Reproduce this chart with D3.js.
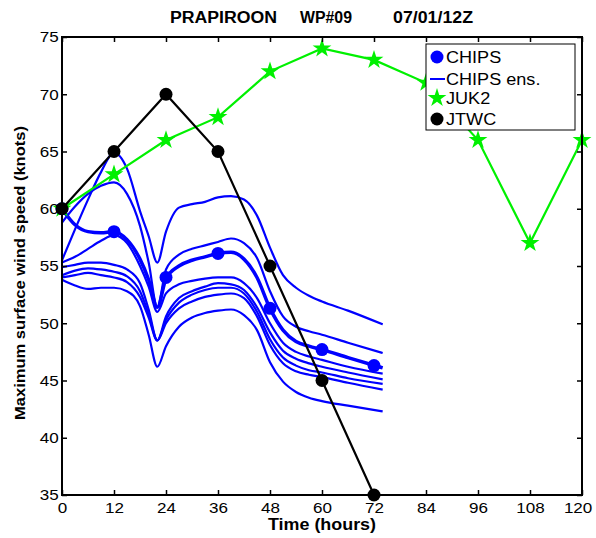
<!DOCTYPE html>
<html>
<head>
<meta charset="utf-8">
<script src="https://cdn.jsdelivr.net/npm/d3@7"></script>
<style>
  body { margin: 0; background: #fff; }
  text { font-family: "Liberation Sans", Arial, Helvetica, sans-serif; }
</style>
</head>
<body>
<div id="chart"></div>
<script>
// forecast hours and tick values
const xTicks = [0, 12, 24, 36, 48, 60, 72, 84, 96, 108, 120];
const yTicks = [35, 40, 45, 50, 55, 60, 65, 70, 75];

// JTWC official forecast
const jtwcHours = [0, 12, 24, 36, 48, 60, 72];
const jtwcWind = [60, 65, 70, 65, 55, 45, 35];

// JUK2
const juk2Hours = [0, 12, 24, 36, 48, 60, 72, 84, 96, 108, 120];
const juk2Wind = [60, 63, 66, 68, 72, 74, 73, 71, 66, 57, 66];

// CHIPS markers (every 12 h)
const chipsHours = [0, 12, 24, 36, 48, 60, 72];
const chipsWind = [60, 58, 54, 56.1, 51.3, 47.7, 46.3];

// CHIPS ensemble tracks
const ensHours = [0, 3, 6, 9, 12, 15, 18, 20, 22, 24, 27, 30, 33, 36, 39, 42, 45, 48, 51, 54, 57, 60, 66, 74];
const chipsTrack = [60.0, 58.6, 58.0, 57.9, 58.0, 57.3, 55.6, 53.8, 51.4, 53.9, 55.0, 55.5, 55.8, 56.1, 56.2, 55.6, 54.0, 51.3, 49.4, 48.4, 48.0, 47.7, 47.0, 46.1];
const ensA = [55.5, 58.2, 60.8, 63.2, 64.9, 63.5, 59.8, 57.6, 55.3, 58.0, 60.1, 60.4, 60.6, 61.0, 61.1, 60.8, 59.4, 56.6, 54.2, 53.1, 52.4, 51.9, 51.1, 49.9];
const ensB = [58.8, 60.2, 61.3, 62.0, 62.3, 61.3, 58.5, 55.3, 51.4, 54.7, 56.0, 56.5, 56.8, 57.1, 57.4, 57.0, 55.7, 52.8, 50.6, 49.7, 49.3, 49.0, 48.3, 47.4];
const ensC = [55.3, 55.8, 56.5, 57.2, 57.7, 57.0, 55.0, 53.2, 51.0, 52.6, 53.4, 53.7, 53.9, 54.0, 54.0, 53.5, 52.2, 50.0, 48.3, 47.5, 47.1, 46.8, 46.2, 45.6];
const ensD = [54.9, 55.1, 55.3, 55.3, 55.1, 54.7, 53.5, 51.2, 48.5, 50.6, 52.2, 52.8, 53.2, 53.5, 53.4, 52.9, 51.4, 49.2, 47.6, 46.9, 46.5, 46.2, 45.7, 45.1];
const ensE = [54.2, 54.6, 54.8, 54.7, 54.5, 54.1, 52.8, 50.8, 48.5, 50.3, 51.8, 52.5, 52.9, 53.1, 53.1, 52.6, 51.0, 48.6, 47.0, 46.3, 45.9, 45.7, 45.2, 44.7];
const ensF = [54.0, 54.2, 54.4, 54.2, 54.0, 53.6, 52.3, 50.5, 48.5, 50.0, 51.3, 51.9, 52.3, 52.5, 52.6, 52.2, 50.6, 48.1, 46.5, 45.8, 45.5, 45.3, 44.8, 44.2];
const ensG = [53.8, 53.3, 53.0, 53.1, 53.1, 52.8, 51.5, 49.0, 46.2, 48.0, 49.7, 50.5, 50.9, 51.1, 51.2, 50.7, 49.4, 46.6, 44.9, 44.0, 43.5, 43.2, 42.8, 42.3];

const legendNames = ["CHIPS", "CHIPS ens.", "JUK2", "JTWC"];

function main() {
    const svg = d3.select("#chart").append("svg")
        .attr("width", 596)
        .attr("height", 538);

    const left = 62, right = 582, top = 37, bottom = 495;
    const stretch = "scale(1.1,1)"; // the source figure has slightly wide lettering

    const x = d3.scaleLinear().domain([0, 120]).range([left, right]);
    const y = d3.scaleLinear().domain([35, 75]).range([bottom, top]);

    const blue = "#0000ff", green = "#00f000";

    // ensemble lines
    const line = d3.line()
        .x(d => x(d[0]))
        .y(d => y(d[1]))
        .curve(d3.curveMonotoneX);

    const members = [ensA, ensB, ensC, ensD, ensE, ensF, ensG];
    svg.append("g").selectAll("path")
        .data(members)
        .join("path")
        .attr("fill", "none")
        .attr("stroke", blue)
        .attr("stroke-width", 2.2)
        .attr("d", m => line(ensHours.map((h, i) => [h, m[i]])));

    // main CHIPS track, thicker
    svg.append("path")
        .attr("fill", "none")
        .attr("stroke", blue)
        .attr("stroke-width", 3.5)
        .attr("d", line(ensHours.map((h, i) => [h, chipsTrack[i]])));

    svg.append("g").selectAll("circle")
        .data(chipsHours)
        .join("circle")
        .attr("cx", d => x(d))
        .attr("cy", (d, i) => y(chipsWind[i]))
        .attr("r", 6.5)
        .attr("fill", blue);

    // JUK2
    const straight = d3.line().x(d => x(d[0])).y(d => y(d[1]));
    svg.append("path")
        .attr("fill", "none")
        .attr("stroke", green)
        .attr("stroke-width", 2.2)
        .attr("d", straight(juk2Hours.map((h, i) => [h, juk2Wind[i]])));

    const star = d3.symbol().type(d3.symbolStar).size(110);
    svg.append("g").selectAll("path")
        .data(juk2Hours)
        .join("path")
        .attr("transform", (d, i) => "translate(" + x(d) + "," + y(juk2Wind[i]) + ")")
        .attr("d", star)
        .attr("fill", green);

    // JTWC
    svg.append("path")
        .attr("fill", "none")
        .attr("stroke", "black")
        .attr("stroke-width", 2.2)
        .attr("d", straight(jtwcHours.map((h, i) => [h, jtwcWind[i]])));

    svg.append("g").selectAll("circle")
        .data(jtwcHours)
        .join("circle")
        .attr("cx", d => x(d))
        .attr("cy", (d, i) => y(jtwcWind[i]))
        .attr("r", 6.5)
        .attr("fill", "black");

    // axes, ticks pointing inward on all four sides
    const xAxis = svg.append("g")
        .attr("transform", "translate(0," + bottom + ")")
        .call(d3.axisBottom(x).tickValues(xTicks).tickSizeInner(-5).tickSizeOuter(0).tickPadding(7));
    const yAxis = svg.append("g")
        .attr("transform", "translate(" + left + ",0)")
        .call(d3.axisLeft(y).tickValues(yTicks).tickSizeInner(-5).tickSizeOuter(0).tickPadding(3));
    svg.append("g")
        .attr("transform", "translate(0," + top + ")")
        .call(d3.axisTop(x).tickValues(xTicks).tickSizeInner(-5).tickSizeOuter(0).tickFormat(""));
    svg.append("g")
        .attr("transform", "translate(" + right + ",0)")
        .call(d3.axisRight(y).tickValues(yTicks).tickSizeInner(-5).tickSizeOuter(0).tickFormat(""));

    svg.selectAll(".domain").remove();
    svg.selectAll(".tick line").attr("stroke", "black").attr("stroke-width", 1.5);
    svg.selectAll(".tick text").attr("fill", "black").attr("font-size", "15.5px")
        .attr("font-family", "Liberation Sans, Arial, sans-serif")
        .attr("transform", stretch);
    yAxis.selectAll(".tick text").attr("dy", "0.32em");
    // keep the last hour label inside the page
    xAxis.selectAll(".tick text").filter(d => d === 120).attr("dx", "-4");

    svg.append("rect")
        .attr("x", left).attr("y", top)
        .attr("width", right - left).attr("height", bottom - top)
        .attr("fill", "none").attr("stroke", "black").attr("stroke-width", 2);

    // titles
    svg.append("text")
        .attr("x", 170).attr("y", 23)
        .attr("font-size", "16px").attr("font-weight", "bold")
        .attr("textLength", 107).attr("lengthAdjust", "spacingAndGlyphs")
        .text("PRAPIROON");
    svg.append("text")
        .attr("x", 300).attr("y", 23)
        .attr("font-size", "16px").attr("font-weight", "bold")
        .attr("textLength", 52).attr("lengthAdjust", "spacingAndGlyphs")
        .text("WP#09");
    svg.append("text")
        .attr("x", 393).attr("y", 23)
        .attr("font-size", "16px").attr("font-weight", "bold")
        .attr("textLength", 80).attr("lengthAdjust", "spacingAndGlyphs")
        .text("07/01/12Z");

    svg.append("text")
        .attr("x", 268).attr("y", 530)
        .attr("font-size", "16px").attr("font-weight", "bold")
        .attr("textLength", 108).attr("lengthAdjust", "spacingAndGlyphs")
        .text("Time (hours)");

    svg.append("text")
        .attr("transform", "translate(25,420) rotate(-90)")
        .attr("font-size", "15px").attr("font-weight", "bold")
        .attr("textLength", 294).attr("lengthAdjust", "spacingAndGlyphs")
        .text("Maximum surface wind speed (knots)");

    // legend
    const lg = svg.append("g");
    lg.append("rect")
        .attr("x", 426).attr("y", 44)
        .attr("width", 149).attr("height", 86)
        .attr("fill", "white").attr("stroke", "black").attr("stroke-width", 1);

    const rowY = [57, 79, 98, 119];
    lg.append("circle").attr("cx", 437).attr("cy", rowY[0]).attr("r", 6.5).attr("fill", blue);
    lg.append("line").attr("x1", 430).attr("x2", 445).attr("y1", rowY[1]).attr("y2", rowY[1])
        .attr("stroke", blue).attr("stroke-width", 2);
    lg.append("path").attr("transform", "translate(437," + rowY[2] + ")").attr("d", star).attr("fill", green);
    lg.append("circle").attr("cx", 437).attr("cy", rowY[3]).attr("r", 6.5).attr("fill", "black");

    lg.selectAll("text.name")
        .data(legendNames)
        .join("text")
        .attr("class", "name")
        .attr("transform", (d, i) => "translate(446," + rowY[i] + ") scale(1.13,1)")
        .attr("dy", "0.36em")
        .attr("font-size", "16px")
        .text(d => d);
}
main();
</script>
</body>
</html>
